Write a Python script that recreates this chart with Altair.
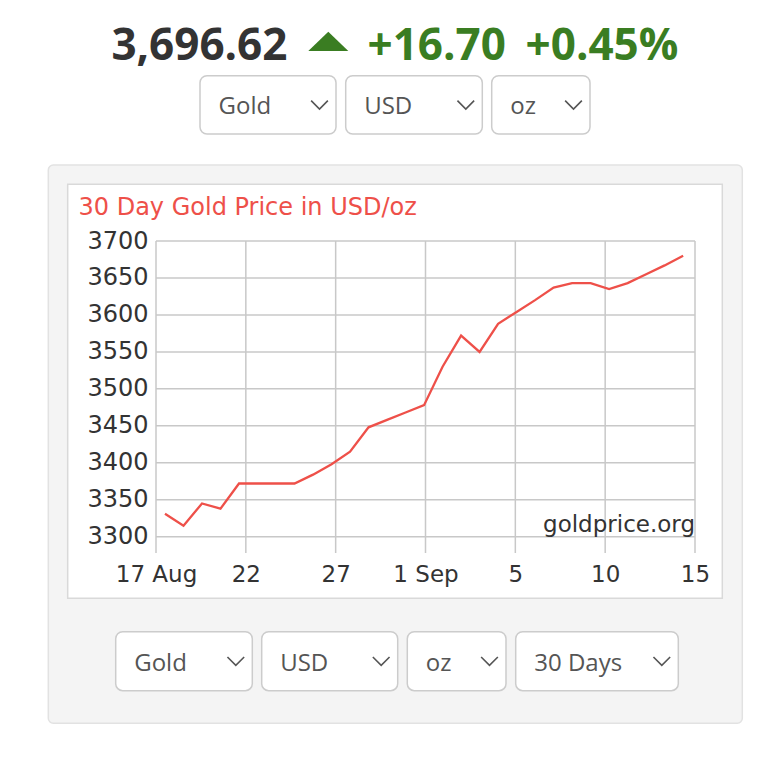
import altair as alt
import pandas as pd

# ---------------- data ----------------
PRICE = "3,696.62"
CHANGE = "+16.70"
CHANGE_PCT = "+0.45%"
CHART_TITLE = "30 Day Gold Price in USD/oz"
WATERMARK = "goldprice.org"
TOP_MENUS = ["Gold", "USD", "oz"]
BOTTOM_MENUS = ["Gold", "USD", "oz", "30 Days"]

X_TICKS = [0, 5, 10, 15, 20, 25, 30]
X_TICK_LABELS = ["17 Aug", "22", "27", "1 Sep", "5", "10", "15"]
Y_TICKS = [3300, 3350, 3400, 3450, 3500, 3550, 3600, 3650, 3700]

DAY_POS = [0.5, 1.53, 2.56, 3.59, 4.62, 5.65, 6.68, 7.71, 8.74, 9.77,
           10.8, 11.83, 12.86, 13.89, 14.92, 15.95, 16.98, 18.01, 19.04, 20.07,
           21.1, 22.13, 23.16, 24.19, 25.22, 26.25, 27.28, 28.31, 29.34]
PRICES = [3331, 3315, 3345, 3338, 3372, 3372, 3372, 3372, 3384, 3398,
          3415, 3448, 3458, 3468, 3478, 3530, 3572, 3550, 3588, 3604,
          3620, 3637, 3643, 3643, 3635, 3643, 3655, 3667, 3680]

# ---------------- layout ----------------
OX, OY = 156, 241          # plot origin in page pixels
W, H = 539, 312            # plot area size
RED = "#ee5049"
GREEN = "#3a7d22"
DARK = "#333333"
MENU_TEXT = "#555555"

ONE = pd.DataFrame({"k": [0]})


def px(v):
    return alt.value(v - OX)


def py(v):
    return alt.value(v - OY)


def box(x0, x1, y0, y1, fill, stroke, radius, sw=1.5):
    return alt.Chart(ONE).mark_rect(
        fill=fill, stroke=stroke, strokeWidth=sw, cornerRadius=radius
    ).encode(x=px(x0), x2=px(x1), y=py(y0), y2=py(y1))


def label(text, x, y, font, size, color, align="left", weight="normal", baseline="alphabetic"):
    return alt.Chart(pd.DataFrame({"t": [text]})).mark_text(
        font=font, fontSize=size, color=color, align=align,
        fontWeight=weight, baseline=baseline
    ).encode(x=px(x), y=py(y), text="t:N")


def symbol(path, x, y, size, fill=None, stroke=None, sw=1.0):
    kw = dict(shape=path, size=size, strokeWidth=sw, opacity=1)
    if fill:
        kw.update(filled=True, fill=fill, strokeOpacity=0)
    else:
        kw.update(filled=False, stroke=stroke, fillOpacity=0)
    return alt.Chart(ONE).mark_point(**kw).encode(x=px(x), y=py(y))


CHEVRON = "M-1,-0.5L0,0.5L1,-0.5"
TRIANGLE = "M-1,0.48L0,-0.48L1,0.48Z"

layers = []
# panel and chart box
layers.append(box(48.3, 742.3, 165, 723.3, "#f4f4f4", "#e2e2e2", 5))
layers.append(box(67.7, 722.3, 184.3, 598.3, "#ffffff", "#d9d9d9", 0))

# header
layers.append(label(PRICE, 199.4, 60, "Open Sans", 44, DARK, "center", "bold"))
layers.append(symbol(TRIANGLE, 328.3, 41.3, 1600, fill=GREEN))
layers.append(label(CHANGE, 436.7, 60, "Open Sans", 44, GREEN, "center", "bold"))
layers.append(label(CHANGE_PCT, 602, 60, "Open Sans", 44, GREEN, "center", "bold"))

# dropdowns
top_boxes = [(200, 336), (345.7, 482.3), (491.7, 590)]
bottom_boxes = [(115.7, 252.3), (261.7, 397.7), (407.3, 506), (515.7, 678.3)]
for names, boxes, (y0, y1) in [(TOP_MENUS, top_boxes, (75.7, 134)),
                               (BOTTOM_MENUS, bottom_boxes, (631.7, 690.7))]:
    cy = (y0 + y1) / 2
    for name, (x0, x1) in zip(names, boxes):
        layers.append(box(x0, x1, y0, y1, "#ffffff", "#cccccc", 7))
        layers.append(label(name, x0 + 18.5, cy + 9.5, "Open Sans", 24, MENU_TEXT))
        layers.append(symbol(CHEVRON, x1 - 16.5, cy, 279, stroke=MENU_TEXT, sw=1.6))

# chart title
layers.append(label(CHART_TITLE, 78.5, 215, "DejaVu Sans", 24, RED))

# chart
XS = alt.Scale(domain=[0, 30], nice=False, zero=False)
YS = alt.Scale(domain=[3278, 3700], nice=False, zero=False)
label_expr = "[" + ",".join("'%s'" % s for s in X_TICK_LABELS) + "][round(datum.value/5)]"
XAX = alt.Axis(values=X_TICKS, labelExpr=label_expr, title=None, grid=False, domain=False,
               ticks=False, labelFont="DejaVu Sans", labelFontSize=23, labelColor=DARK,
               labelPadding=10.5, labelFlush=False, labelOverlap=False, labelBound=False,
               zindex=1)
YAX = alt.Axis(values=Y_TICKS, format="d", title=None, grid=False, domain=False, ticks=False,
               labelFont="DejaVu Sans", labelFontSize=24, labelColor=DARK,
               labelPadding=8, labelOverlap=False, labelBound=False, labelFlush=False,
               zindex=1)

vgrid = alt.Chart(pd.DataFrame({"pos": X_TICKS})).mark_rule(
    color="#c8c8c8", strokeWidth=1.5
).encode(x=alt.X("pos:Q", scale=XS, axis=XAX))
hgrid = alt.Chart(pd.DataFrame({"v": Y_TICKS})).mark_rule(
    color="#c8c8c8", strokeWidth=1.5
).encode(y=alt.Y("v:Q", scale=YS, axis=YAX))
line = alt.Chart(pd.DataFrame({"day": DAY_POS, "price": PRICES})).mark_line(
    color=RED, strokeWidth=2.3
).encode(x=alt.X("day:Q", scale=XS, axis=XAX), y=alt.Y("price:Q", scale=YS, axis=YAX))

layers += [vgrid, hgrid, line]
layers.append(label(WATERMARK, 695, 531.7, "DejaVu Sans", 23, DARK, "right"))

chart = alt.layer(*layers).properties(
    width=W, height=H,
    padding={"left": OX - 8, "top": OY - 8, "right": 55, "bottom": 180},
    autosize=alt.AutoSizeParams(type="none"),
    background="#ffffff",
).configure_view(stroke=None)

chart.save("out.html", embed_options={"renderer": "svg", "actions": False})
